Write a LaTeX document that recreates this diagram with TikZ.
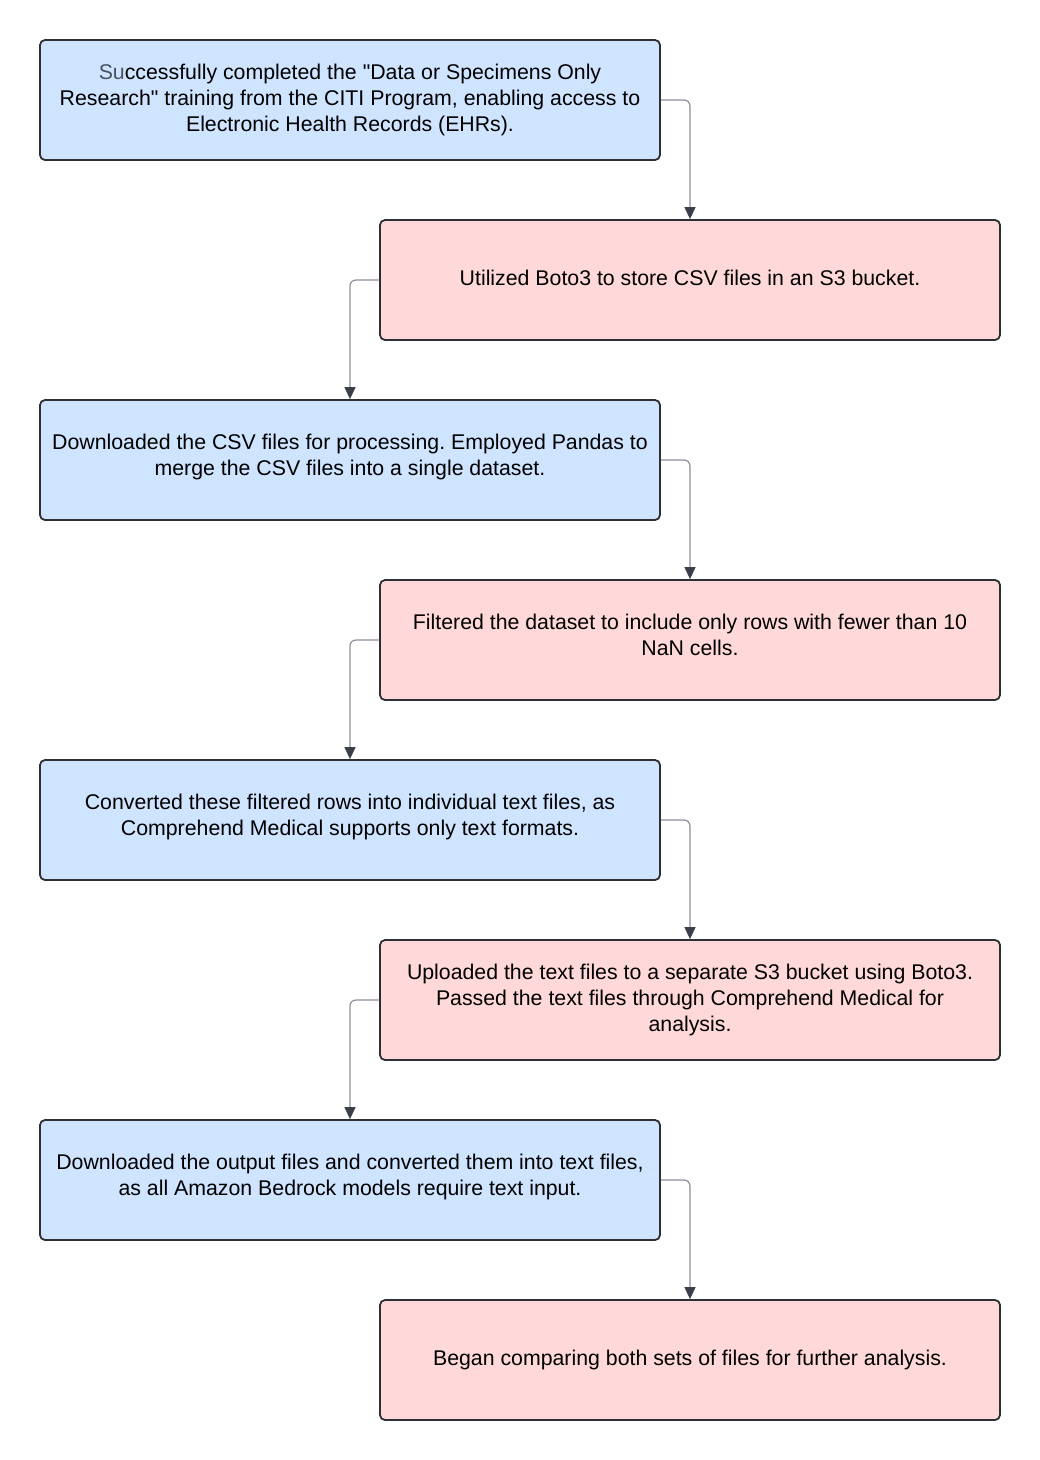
\documentclass[tikz,border=0pt]{standalone}
\usepackage{fontspec}
\setmainfont{Liberation Sans}[Ligatures=TeXOff]
\usetikzlibrary{arrows.meta}
\definecolor{bluef}{HTML}{CFE4FF}
\definecolor{pinkf}{HTML}{FFD9D9}
\definecolor{edgec}{HTML}{2D2F33}
\definecolor{linec}{HTML}{8A9099}
\definecolor{headc}{HTML}{3A3F4A}
\definecolor{sucol}{HTML}{4A5263}
\newcommand\boxtext[2]{\raisebox{#1}[\height][\depth]{\begin{tabular}{@{}c@{}}#2\end{tabular}}}
\tikzset{
  box/.style={draw=edgec, line width=1.8pt, rounded corners=5pt, minimum width=620pt, minimum height=120pt, align=center, font=\fontsize{21.3pt}{26pt}\selectfont\frenchspacing, inner sep=0pt},
  bluebox/.style={box, fill=bluef},
  pinkbox/.style={box, fill=pinkf},
  conn/.style={draw=linec, line width=1.2pt, rounded corners=6pt, -{Triangle[length=12pt,width=11pt,fill=headc,color=headc]}}
}
\begin{document}
\begin{tikzpicture}[x=1pt,y=-1pt]
\useasboundingbox (0,0) rectangle (1040,1460);
\node[bluebox] (n1) at (350,100) {\boxtext{0pt}{{\color{sucol}Su}ccessfully completed the "Data or Specimens Only\\Research" training from the CITI Program, enabling access to\\Electronic Health Records (EHRs).}};
\node[pinkbox] (n2) at (690,280) {\boxtext{0pt}{Utilized Boto3 to store CSV files in an S3 bucket.}};
\node[bluebox] (n3) at (350,460) {\boxtext{2.5pt}{Downloaded the CSV files for processing. Employed Pandas to\\merge the CSV files into a single dataset.}};
\node[pinkbox] (n4) at (690,640) {\boxtext{2.5pt}{Filtered the dataset to include only rows with fewer than 10\\NaN cells.}};
\node[bluebox] (n5) at (350,820) {\boxtext{2.5pt}{Converted these filtered rows into individual text files, as\\Comprehend Medical supports only text formats.}};
\node[pinkbox] (n6) at (690,1000) {\boxtext{0pt}{Uploaded the text files to a separate S3 bucket using Boto3.\\Passed the text files through Comprehend Medical for\\analysis.}};
\node[bluebox] (n7) at (350,1180) {\boxtext{2.5pt}{Downloaded the output files and converted them into text files,\\as all Amazon Bedrock models require text input.}};
\node[pinkbox] (n8) at (690,1360) {\boxtext{0pt}{Began comparing both sets of files for further analysis.}};
\draw[conn] (n1.east) -| (n2.north);
\draw[conn] (n2.west) -| (n3.north);
\draw[conn] (n3.east) -| (n4.north);
\draw[conn] (n4.west) -| (n5.north);
\draw[conn] (n5.east) -| (n6.north);
\draw[conn] (n6.west) -| (n7.north);
\draw[conn] (n7.east) -| (n8.north);
\end{tikzpicture}
\end{document}
